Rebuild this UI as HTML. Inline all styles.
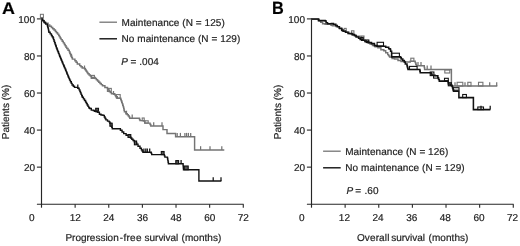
<!DOCTYPE html>
<html><head><meta charset="utf-8"><style>
html,body{margin:0;padding:0;background:#fff;width:520px;height:246px;overflow:hidden}
svg{display:block;filter:blur(0.3px)}
text{stroke:#1e1e1e;stroke-width:0.2px}
</style></head><body>
<svg text-rendering="geometricPrecision" width="520" height="246" viewBox="0 0 520 246" font-family='"Liberation Sans", sans-serif' font-size="10" fill="#1e1e1e"><rect width="520" height="246" fill="#ffffff"/><text transform="translate(1.95,14.4) scale(1.1,1.03)" font-size="16.3" font-weight="bold" fill="#000">A</text><text transform="translate(271.9,13.9) scale(1,1.09)" font-size="16.3" font-weight="bold" fill="#000">B</text><line x1="41.50" y1="18.30" x2="41.50" y2="207.7" stroke="#262626" stroke-width="1.15"/><line x1="36.90" y1="204.2" x2="243.60" y2="204.2" stroke="#262626" stroke-width="1.15"/><line x1="36.90" y1="167.14" x2="41.50" y2="167.14" stroke="#262626" stroke-width="1.1"/><text x="35.00" y="171" text-anchor="end">20</text><line x1="36.90" y1="130.08" x2="41.50" y2="130.08" stroke="#262626" stroke-width="1.1"/><text x="35.00" y="134" text-anchor="end">40</text><line x1="36.90" y1="93.02" x2="41.50" y2="93.02" stroke="#262626" stroke-width="1.1"/><text x="35.00" y="97" text-anchor="end">60</text><line x1="36.90" y1="55.96" x2="41.50" y2="55.96" stroke="#262626" stroke-width="1.1"/><text x="35.00" y="60" text-anchor="end">80</text><line x1="36.90" y1="18.90" x2="41.50" y2="18.90" stroke="#262626" stroke-width="1.1"/><text x="35.00" y="23" text-anchor="end">100</text><line x1="75.13" y1="204.2" x2="75.13" y2="207.7" stroke="#262626" stroke-width="1.1"/><text x="75.23" y="221" text-anchor="middle">12</text><line x1="108.76" y1="204.2" x2="108.76" y2="207.7" stroke="#262626" stroke-width="1.1"/><text x="108.86" y="221" text-anchor="middle">24</text><line x1="142.39" y1="204.2" x2="142.39" y2="207.7" stroke="#262626" stroke-width="1.1"/><text x="142.49" y="221" text-anchor="middle">36</text><line x1="176.02" y1="204.2" x2="176.02" y2="207.7" stroke="#262626" stroke-width="1.1"/><text x="176.12" y="221" text-anchor="middle">48</text><line x1="209.65" y1="204.2" x2="209.65" y2="207.7" stroke="#262626" stroke-width="1.1"/><text x="209.75" y="221" text-anchor="middle">60</text><line x1="243.28" y1="204.2" x2="243.28" y2="207.7" stroke="#262626" stroke-width="1.1"/><text x="243.38" y="221" text-anchor="middle">72</text><text x="31.80" y="221" text-anchor="middle">0</text><line x1="311.50" y1="18.30" x2="311.50" y2="207.7" stroke="#262626" stroke-width="1.15"/><line x1="306.90" y1="204.2" x2="513.60" y2="204.2" stroke="#262626" stroke-width="1.15"/><line x1="306.90" y1="167.14" x2="311.50" y2="167.14" stroke="#262626" stroke-width="1.1"/><text x="305.00" y="171" text-anchor="end">20</text><line x1="306.90" y1="130.08" x2="311.50" y2="130.08" stroke="#262626" stroke-width="1.1"/><text x="305.00" y="134" text-anchor="end">40</text><line x1="306.90" y1="93.02" x2="311.50" y2="93.02" stroke="#262626" stroke-width="1.1"/><text x="305.00" y="97" text-anchor="end">60</text><line x1="306.90" y1="55.96" x2="311.50" y2="55.96" stroke="#262626" stroke-width="1.1"/><text x="305.00" y="60" text-anchor="end">80</text><line x1="306.90" y1="18.90" x2="311.50" y2="18.90" stroke="#262626" stroke-width="1.1"/><text x="305.00" y="23" text-anchor="end">100</text><line x1="345.13" y1="204.2" x2="345.13" y2="207.7" stroke="#262626" stroke-width="1.1"/><text x="344.43" y="221" text-anchor="middle">12</text><line x1="378.76" y1="204.2" x2="378.76" y2="207.7" stroke="#262626" stroke-width="1.1"/><text x="378.06" y="221" text-anchor="middle">24</text><line x1="412.39" y1="204.2" x2="412.39" y2="207.7" stroke="#262626" stroke-width="1.1"/><text x="411.69" y="221" text-anchor="middle">36</text><line x1="446.02" y1="204.2" x2="446.02" y2="207.7" stroke="#262626" stroke-width="1.1"/><text x="445.32" y="221" text-anchor="middle">48</text><line x1="479.65" y1="204.2" x2="479.65" y2="207.7" stroke="#262626" stroke-width="1.1"/><text x="478.95" y="221" text-anchor="middle">60</text><line x1="513.28" y1="204.2" x2="513.28" y2="207.7" stroke="#262626" stroke-width="1.1"/><text x="512.58" y="221" text-anchor="middle">72</text><text x="301.80" y="221" text-anchor="middle">0</text><text transform="translate(9.25,112) rotate(-90)" text-anchor="middle">Patients (%)</text><text transform="translate(281,112) rotate(-90)" text-anchor="middle">Patients (%)</text><text x="65.38" y="241.00">Progression</text><text x="119.85" y="241.00" textLength="21.59" lengthAdjust="spacing">-free</text><text x="144.62" y="241.00" textLength="33.65" lengthAdjust="spacing">survival</text><text x="181.57" y="241.00" textLength="39.73" lengthAdjust="spacing">(months)</text><text x="356.92" y="241.00" textLength="32.45" lengthAdjust="spacing">Overall</text><text x="391.33" y="241.00" textLength="33.65" lengthAdjust="spacing">survival</text><text x="428.57" y="241.00" textLength="39.83" lengthAdjust="spacing">(months)</text><rect x="40.4" y="14.3" width="3.0" height="3.2" fill="none" stroke="#747474" stroke-width="1"/><polyline points="41.40,18.90 42.57,18.90 42.57,20.37 43.73,20.37 43.73,21.83 44.90,21.83 44.90,23.30 48.10,23.30 48.10,24.90 49.75,24.90 49.75,26.15 51.40,26.15 51.40,27.40 52.73,27.40 52.73,28.73 54.07,28.73 54.07,30.07 55.40,30.07 55.40,31.40 56.50,31.40 56.50,32.77 57.60,32.77 57.60,34.13 58.70,34.13 58.70,35.50 59.50,35.50 59.50,36.87 60.30,36.87 60.30,38.23 61.10,38.23 61.10,39.60 62.20,39.60 62.20,41.23 63.30,41.23 63.30,42.87 64.40,42.87 64.40,44.50 65.20,44.50 65.20,45.83 66.00,45.83 66.00,47.17 66.80,47.17 66.80,48.50 68.05,48.50 68.05,50.15 69.30,50.15 69.30,51.80 69.83,51.80 69.83,53.20 70.37,53.20 70.37,54.60 70.90,54.60 70.90,56.00 71.65,56.00 71.65,57.55 72.40,57.55 72.40,59.10 74.90,59.10 74.90,60.70 76.10,60.70 76.10,62.30 77.30,62.30 77.30,63.90 79.70,63.90 79.70,65.60 80.95,65.60 80.95,66.80 82.20,66.80 82.20,68.00 84.60,68.00 84.60,68.80 85.40,68.80 85.40,70.00 86.20,70.00 86.20,71.20 87.05,71.20 87.05,72.45 87.90,72.45 87.90,73.70 89.10,73.70 89.10,74.90 90.30,74.90 90.30,76.10 91.50,76.10 91.50,77.50 95.20,77.50 95.20,78.50 96.40,78.50 96.40,79.75 97.60,79.75 97.60,81.00 98.80,81.00 98.80,82.20 100.00,82.20 100.00,83.40 101.25,83.40 101.25,84.60 102.50,84.60 102.50,85.80 104.90,85.80 104.90,87.50 107.50,87.50 107.50,88.60 108.35,88.60 108.35,90.00 109.20,90.00 109.20,91.40 110.35,91.40 110.35,92.60 111.50,92.60 111.50,93.80 114.40,93.80 114.40,94.30 115.15,94.30 115.15,95.55 115.90,95.55 115.90,96.80 117.30,96.80 117.30,98.30 120.30,98.30 120.75,98.30 120.75,99.50 121.20,99.50 121.20,100.70 121.70,100.70 121.70,102.15 122.20,102.15 122.20,103.60 122.70,103.60 122.70,105.23 123.20,105.23 123.20,106.87 123.70,106.87 123.70,108.50 124.05,108.50 124.05,110.15 124.40,110.15 124.40,111.80 125.90,111.80 125.90,113.80 127.30,113.80 127.30,114.80 128.30,114.80 128.30,116.00 129.30,116.00 129.30,117.20 129.80,117.20 129.80,118.20 139.00,118.20 139.50,118.20 139.50,119.40 140.00,119.40 140.00,120.60 143.90,120.60 143.90,121.10 144.90,121.10 144.90,123.10 149.30,123.10 150.05,123.10 150.05,124.55 150.80,124.55 150.80,126.00 163.00,126.00 163.00,129.60 167.00,129.60 167.00,133.40 175.60,133.40 175.60,136.70 194.60,136.70 194.60,150.00 224.30,150.00" fill="none" stroke="#747474" stroke-width="1.45" stroke-linejoin="miter"/><line x1="153.70" y1="126.00" x2="153.70" y2="122.20" stroke="#747474" stroke-width="1.25"/><line x1="162.00" y1="126.00" x2="162.00" y2="122.20" stroke="#747474" stroke-width="1.25"/><line x1="177.20" y1="136.70" x2="177.20" y2="132.90" stroke="#747474" stroke-width="1.25"/><line x1="180.40" y1="136.70" x2="180.40" y2="132.90" stroke="#747474" stroke-width="1.25"/><line x1="184.90" y1="136.70" x2="184.90" y2="132.90" stroke="#747474" stroke-width="1.25"/><line x1="186.60" y1="136.70" x2="186.60" y2="132.90" stroke="#747474" stroke-width="1.25"/><line x1="188.40" y1="136.70" x2="188.40" y2="132.90" stroke="#747474" stroke-width="1.25"/><line x1="190.70" y1="136.70" x2="190.70" y2="132.90" stroke="#747474" stroke-width="1.25"/><line x1="200.60" y1="150.00" x2="200.60" y2="146.20" stroke="#747474" stroke-width="1.25"/><line x1="210.00" y1="150.00" x2="210.00" y2="146.20" stroke="#747474" stroke-width="1.25"/><line x1="221.80" y1="150.00" x2="221.80" y2="146.20" stroke="#747474" stroke-width="1.25"/><line x1="113.50" y1="94.80" x2="113.50" y2="91.00" stroke="#747474" stroke-width="1.25"/><line x1="126.50" y1="114.50" x2="126.50" y2="110.70" stroke="#747474" stroke-width="1.25"/><line x1="132.20" y1="118.20" x2="132.20" y2="114.40" stroke="#747474" stroke-width="1.25"/><line x1="71.50" y1="57.50" x2="71.50" y2="53.70" stroke="#747474" stroke-width="1.25"/><line x1="84.50" y1="69.30" x2="84.50" y2="65.50" stroke="#747474" stroke-width="1.25"/><rect x="144.60" y="120.80" width="3.60" height="2.30" fill="none" stroke="#747474" stroke-width="1.1"/><rect x="91.20" y="75.40" width="3.20" height="3.00" fill="none" stroke="#747474" stroke-width="1.1"/><rect x="107.40" y="88.40" width="3.90" height="3.00" fill="none" stroke="#747474" stroke-width="1.1"/><rect x="116.40" y="94.60" width="3.80" height="3.60" fill="none" stroke="#747474" stroke-width="1.1"/><rect x="142.20" y="118.00" width="2.00" height="2.80" fill="none" stroke="#747474" stroke-width="1.1"/><polyline points="41.40,18.90 42.75,18.90 42.75,20.70 44.10,20.70 44.10,22.50 45.70,22.50 45.70,24.15 47.30,24.15 47.30,25.80 47.70,25.80 47.70,27.00 48.10,27.00 48.10,28.20 48.37,28.20 48.37,29.57 48.63,29.57 48.63,30.93 48.90,30.93 48.90,32.30 50.15,32.30 50.15,33.90 51.40,33.90 51.40,35.50 52.20,35.50 52.20,36.75 53.00,36.75 53.00,38.00 53.53,38.00 53.53,39.60 54.07,39.60 54.07,41.20 54.60,41.20 54.60,42.80 55.17,42.80 55.17,44.43 55.73,44.43 55.73,46.07 56.30,46.07 56.30,47.70 56.83,47.70 56.83,49.07 57.37,49.07 57.37,50.43 57.90,50.43 57.90,51.80 58.50,51.80 58.50,53.35 59.10,53.35 59.10,54.90 59.63,54.90 59.63,56.23 60.17,56.23 60.17,57.57 60.70,57.57 60.70,58.90 61.30,58.90 61.30,60.32 61.90,60.32 61.90,61.75 62.50,61.75 62.50,63.17 63.10,63.17 63.10,64.60 63.73,64.60 63.73,66.02 64.35,66.02 64.35,67.45 64.97,67.45 64.97,68.88 65.60,68.88 65.60,70.30 66.13,70.30 66.13,71.67 66.67,71.67 66.67,73.03 67.20,73.03 67.20,74.40 67.80,74.40 67.80,75.83 68.40,75.83 68.40,77.25 69.00,77.25 69.00,78.67 69.60,78.67 69.60,80.10 70.43,80.10 70.43,81.73 71.27,81.73 71.27,83.37 72.10,83.37 72.10,85.00 73.30,85.00 73.30,86.20 74.50,86.20 74.50,87.40 77.80,87.40 77.80,88.20 78.30,88.20 78.30,88.30 79.10,88.30 79.10,89.90 79.90,89.90 79.90,91.50 80.50,91.50 80.50,92.92 81.10,92.92 81.10,94.35 81.70,94.35 81.70,95.78 82.30,95.78 82.30,97.20 83.40,97.20 83.40,98.83 84.50,98.83 84.50,100.47 85.60,100.47 85.60,102.10 86.40,102.10 86.40,103.52 87.20,103.52 87.20,104.95 88.00,104.95 88.00,106.38 88.80,106.38 88.80,107.80 89.60,107.80 89.60,108.50 91.30,108.50 91.30,110.10 93.30,110.10 93.30,110.50 94.50,110.50 94.50,111.30 96.10,111.30 96.10,111.80 97.80,111.80 97.80,112.20 99.40,112.20 99.40,114.20 101.00,114.20 101.00,115.00 103.00,115.00 103.00,115.40 104.30,115.40 104.30,117.00 105.10,117.00 105.10,118.45 105.90,118.45 105.90,119.90 107.50,119.90 107.50,121.10 109.10,121.10 109.10,121.90 109.90,121.90 109.90,123.25 110.70,123.25 110.70,124.60 111.23,124.60 111.23,125.97 111.77,125.97 111.77,127.33 112.30,127.33 112.30,128.70 118.00,128.70 120.40,128.70 120.40,130.30 122.05,130.30 122.05,131.95 123.70,131.95 123.70,133.60 126.10,133.60 126.10,135.20 129.40,135.20 129.40,136.80 130.60,136.80 130.60,138.05 131.80,138.05 131.80,139.30 133.05,139.30 133.05,140.50 134.30,140.50 134.30,141.70 135.50,141.70 135.50,142.90 136.70,142.90 136.70,144.10 138.00,144.10 138.00,146.30 140.00,146.30 140.00,148.30 141.40,148.30 141.40,149.80 142.15,149.80 142.15,151.00 142.90,151.00 142.90,152.20 150.80,152.20 151.25,152.20 151.25,153.40 151.70,153.40 151.70,154.60 163.90,154.60 164.40,154.60 164.40,155.85 164.90,155.85 164.90,157.10 167.30,157.10 167.30,157.50 167.58,157.50 167.58,159.07 167.85,159.07 167.85,160.65 168.12,160.65 168.12,162.23 168.40,162.23 168.40,163.80 182.10,163.80 183.10,163.80 183.10,165.50 183.23,165.50 183.23,166.90 183.37,166.90 183.37,168.30 183.50,168.30 183.50,169.70 198.90,169.70 198.90,181.00 221.40,181.00" fill="none" stroke="#111111" stroke-width="1.4" stroke-linejoin="miter"/><line x1="143.90" y1="152.20" x2="143.90" y2="148.40" stroke="#111111" stroke-width="1.25"/><line x1="145.80" y1="152.20" x2="145.80" y2="148.40" stroke="#111111" stroke-width="1.25"/><line x1="147.30" y1="152.20" x2="147.30" y2="148.40" stroke="#111111" stroke-width="1.25"/><line x1="149.70" y1="152.20" x2="149.70" y2="148.40" stroke="#111111" stroke-width="1.25"/><line x1="181.10" y1="163.80" x2="181.10" y2="160.00" stroke="#111111" stroke-width="1.25"/><line x1="213.20" y1="181.00" x2="213.20" y2="177.20" stroke="#111111" stroke-width="1.25"/><line x1="221.00" y1="181.00" x2="221.00" y2="177.20" stroke="#111111" stroke-width="1.25"/><line x1="77.80" y1="88.20" x2="77.80" y2="84.40" stroke="#111111" stroke-width="1.25"/><rect x="175.80" y="160.60" width="2.80" height="3.20" fill="#555" stroke="#111111" stroke-width="1.1"/><rect x="184.30" y="166.00" width="3.90" height="3.70" fill="#555" stroke="#111111" stroke-width="1.1"/><rect x="161.30" y="151.50" width="2.80" height="3.10" fill="#555" stroke="#111111" stroke-width="1.1"/><rect x="95.70" y="108.30" width="2.80" height="2.70" fill="#555" stroke="#111111" stroke-width="1.1"/><rect x="109.90" y="123.20" width="2.30" height="3.00" fill="#555" stroke="#111111" stroke-width="1.1"/><rect x="128.00" y="134.60" width="2.80" height="2.80" fill="#555" stroke="#111111" stroke-width="1.1"/><rect x="134.40" y="141.00" width="2.20" height="3.80" fill="#555" stroke="#111111" stroke-width="1.1"/><polyline points="311.40,19.20 317.80,19.20 317.80,19.40 319.25,19.40 319.25,20.85 320.70,20.85 320.70,22.30 322.60,22.30 322.60,23.80 325.10,23.80 325.10,24.30 327.50,24.30 331.00,24.30 331.00,25.20 332.40,25.20 332.40,25.70 336.00,25.70 336.00,26.60 339.50,26.60 339.50,28.80 342.00,28.80 342.00,30.80 345.50,30.80 345.50,32.20 349.00,32.20 349.00,33.60 353.00,33.60 353.00,35.00 356.00,35.00 356.00,36.20 360.00,36.20 360.00,38.40 362.50,38.40 362.50,40.00 365.00,40.00 365.00,41.60 367.50,41.60 367.50,42.80 370.00,42.80 370.00,44.00 372.50,44.00 372.50,45.40 375.00,45.40 375.00,46.80 377.90,46.80 377.90,47.80 380.90,47.80 380.90,49.80 383.80,49.80 383.80,50.70 385.70,50.70 385.70,52.70 387.70,52.70 387.70,54.60 388.65,54.60 388.65,55.85 389.60,55.85 389.60,57.10 392.10,57.10 392.10,58.50 394.50,58.50 394.50,59.00 398.00,59.00 398.00,60.50 401.00,60.50 401.00,61.50 404.50,61.50 404.50,62.00 410.20,62.00 410.20,61.30 415.20,61.30 415.20,62.60 415.80,62.60 415.80,64.15 416.40,64.15 416.40,65.70 424.00,65.70 424.30,65.70 424.30,67.55 424.60,67.55 424.60,69.40 451.40,69.40 451.40,86.00 497.30,86.00" fill="none" stroke="#747474" stroke-width="1.45"/><line x1="455.00" y1="86.00" x2="455.00" y2="82.20" stroke="#747474" stroke-width="1.25"/><line x1="465.00" y1="86.00" x2="465.00" y2="82.20" stroke="#747474" stroke-width="1.25"/><line x1="489.70" y1="86.00" x2="489.70" y2="82.20" stroke="#747474" stroke-width="1.25"/><line x1="496.70" y1="86.00" x2="496.70" y2="82.20" stroke="#747474" stroke-width="1.25"/><line x1="427.20" y1="69.40" x2="427.20" y2="65.60" stroke="#747474" stroke-width="1.25"/><line x1="431.00" y1="69.40" x2="431.00" y2="65.60" stroke="#747474" stroke-width="1.25"/><line x1="418.00" y1="65.70" x2="418.00" y2="61.90" stroke="#747474" stroke-width="1.25"/><line x1="421.00" y1="65.70" x2="421.00" y2="61.90" stroke="#747474" stroke-width="1.25"/><rect x="344.20" y="28.40" width="2.00" height="2.80" fill="none" stroke="#747474" stroke-width="1.1"/><rect x="351.50" y="30.80" width="2.40" height="2.60" fill="none" stroke="#747474" stroke-width="1.1"/><rect x="361.20" y="36.00" width="2.80" height="2.40" fill="none" stroke="#747474" stroke-width="1.1"/><rect x="457.10" y="82.30" width="5.70" height="3.70" fill="none" stroke="#747474" stroke-width="1.1"/><rect x="467.80" y="82.30" width="3.20" height="3.70" fill="none" stroke="#747474" stroke-width="1.1"/><rect x="478.50" y="82.30" width="4.40" height="3.70" fill="none" stroke="#747474" stroke-width="1.1"/><rect x="444.80" y="70.00" width="5.00" height="3.00" fill="none" stroke="#747474" stroke-width="1.1"/><rect x="410.80" y="58.20" width="3.10" height="3.10" fill="none" stroke="#747474" stroke-width="1.1"/><polyline points="311.40,19.00 317.80,19.00 318.50,19.00 318.50,20.60 325.10,20.60 325.10,20.90 326.10,20.90 326.10,22.80 327.50,22.80 327.50,23.80 331.40,23.80 331.40,23.60 333.40,23.60 333.40,24.30 335.80,24.30 335.80,25.50 337.30,25.50 337.30,26.70 339.30,26.70 339.30,28.20 341.70,28.20 341.70,30.10 343.10,30.10 343.10,31.30 345.60,31.30 345.60,32.20 348.00,32.20 348.00,33.40 350.40,33.40 350.40,33.60 352.10,33.60 352.10,34.60 354.50,34.60 354.50,35.80 356.10,35.80 356.10,37.00 358.60,37.00 358.60,38.30 360.20,38.30 360.20,39.50 361.80,39.50 361.80,40.30 365.00,40.30 365.00,41.50 368.60,41.50 368.60,42.60 371.50,42.60 371.50,43.60 374.40,43.60 374.40,45.60 377.00,45.60 377.00,46.20 384.30,46.20 384.30,46.30 385.70,46.30 385.70,47.30 387.70,47.30 388.70,47.30 388.70,48.80 390.10,48.80 390.10,49.30 390.60,49.30 390.60,51.20 391.60,51.20 391.60,52.70 391.60,56.80 399.40,56.80 400.40,56.80 400.40,57.60 401.30,57.60 401.30,59.00 402.80,59.00 402.80,60.50 404.30,60.50 404.30,62.00 405.30,62.00 405.30,64.00 407.00,64.00 407.00,65.70 407.33,65.70 407.33,66.97 407.67,66.97 407.67,68.23 408.00,68.23 408.00,69.50 419.60,69.50 419.90,69.50 419.90,71.10 420.20,71.10 420.20,72.70 427.80,72.70 430.20,72.70 431.10,72.70 431.10,73.95 432.00,73.95 432.00,75.20 435.00,75.20 435.00,75.80 437.80,75.80 437.80,77.70 438.55,77.70 438.55,79.40 439.30,79.40 439.30,81.10 447.90,81.10 448.15,81.10 448.15,82.50 448.40,82.50 448.40,83.90 450.25,83.90 450.25,85.15 452.10,85.15 452.10,86.40 452.57,86.40 452.57,88.03 453.03,88.03 453.03,89.67 453.50,89.67 453.50,91.30 458.90,91.30 458.90,97.60 473.40,97.60 473.40,109.60 490.40,109.60" fill="none" stroke="#111111" stroke-width="1.55"/><rect x="377.10" y="42.30" width="6.40" height="3.70" fill="none" stroke="#111111" stroke-width="1.1"/><rect x="360.90" y="37.40" width="2.30" height="2.20" fill="none" stroke="#111111" stroke-width="1.1"/><rect x="366.20" y="40.00" width="2.60" height="2.50" fill="none" stroke="#111111" stroke-width="1.1"/><rect x="391.60" y="53.20" width="7.80" height="3.80" fill="none" stroke="#111111" stroke-width="1.1"/><rect x="409.50" y="66.40" width="7.60" height="3.10" fill="none" stroke="#111111" stroke-width="1.1"/><rect x="430.20" y="72.00" width="3.70" height="3.60" fill="none" stroke="#111111" stroke-width="1.1"/><rect x="433.60" y="75.60" width="4.00" height="2.50" fill="none" stroke="#111111" stroke-width="1.1"/><rect x="444.50" y="78.30" width="3.80" height="2.50" fill="none" stroke="#111111" stroke-width="1.1"/><rect x="448.30" y="82.70" width="3.10" height="3.10" fill="none" stroke="#111111" stroke-width="1.1"/><rect x="453.30" y="87.70" width="5.70" height="2.50" fill="none" stroke="#111111" stroke-width="1.1"/><rect x="462.70" y="94.50" width="3.70" height="3.10" fill="none" stroke="#111111" stroke-width="1.1"/><rect x="477.80" y="107.00" width="5.70" height="2.60" fill="none" stroke="#111111" stroke-width="1.1"/><line x1="490.20" y1="109.60" x2="490.20" y2="105.80" stroke="#111111" stroke-width="1.25"/><line x1="481.00" y1="109.60" x2="481.00" y2="105.80" stroke="#111111" stroke-width="1.25"/><line x1="99.40" y1="22.20" x2="117.00" y2="22.20" stroke="#747474" stroke-width="1.3"/><line x1="99.40" y1="38.80" x2="117.00" y2="38.80" stroke="#111111" stroke-width="1.4"/><text x="121.47" y="26.00" textLength="103.33" lengthAdjust="spacing">Maintenance (N = 125)</text><text x="121.58" y="42.00" textLength="118.74" lengthAdjust="spacing">No maintenance (N = 129)</text><text x="121.27" y="64.90" font-style="italic">P</text><text x="130.43" y="64.90">=</text><text x="139.30" y="64.90">.004</text><line x1="323.10" y1="151.20" x2="340.70" y2="151.20" stroke="#747474" stroke-width="1.3"/><line x1="323.10" y1="167.80" x2="340.70" y2="167.80" stroke="#111111" stroke-width="1.4"/><text x="345.18" y="155.40" textLength="103.13" lengthAdjust="spacing">Maintenance (N = 126)</text><text x="345.28" y="171.40" textLength="119.34" lengthAdjust="spacing">No maintenance (N = 129)</text><text x="346.47" y="194.30" font-style="italic">P</text><text x="355.32" y="194.30">=</text><text x="364.60" y="194.30">.60</text></svg>
</body></html>
